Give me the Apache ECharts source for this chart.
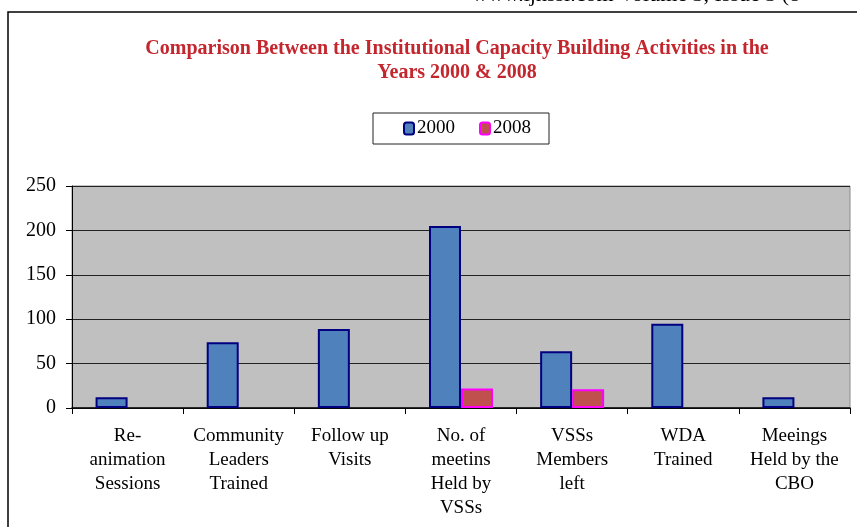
<!DOCTYPE html>
<html>
<head>
<meta charset="utf-8">
<script src="https://cdn.jsdelivr.net/npm/echarts@6/dist/echarts.min.js"></script>
<style>
  html, body { margin: 0; padding: 0; background: #fff; }
  #chart { width: 857px; height: 527px; }
</style>
</head>
<body>
<div id="chart"></div>
<script>
// categories along the x axis
const categories = [
  "Re-\nanimation\nSessions",
  "Community\nLeaders\nTrained",
  "Follow up\nVisits",
  "No. of\nmeetins\nHeld by\nVSSs",
  "VSSs\nMembers\nleft",
  "WDA\nTrained",
  "Meeings\nHeld by the\nCBO"
];
// values
const values2000 = [12, 74, 89, 205, 64, 95, 12];
const values2008 = [null, null, null, 22, 21, null, null];
const yTicks = [0, 50, 100, 150, 200, 250];

const serif = "Liberation Serif";

const chart = echarts.init(document.getElementById("chart"));

const option = {
  backgroundColor: "#fff",
  animation: false,
  title: {
    text: "Comparison Between the Institutional Capacity Building Activities in the\nYears 2000 & 2008",
    left: 452,
    top: 32,
    textAlign: "center",
    textStyle: {
      fontFamily: serif,
      fontSize: 20,
      fontWeight: "bold",
      color: "#c4262e",
      lineHeight: 24
    }
  },
  legend: {
    left: 373,
    top: 113,
    backgroundColor: "#fff",
    borderColor: "#222",
    borderWidth: 1,
    padding: [6, 18, 6, 30],
    itemWidth: 10,
    itemHeight: 12,
    itemGap: 24,
    textStyle: { fontFamily: serif, fontSize: 19, color: "#000", padding: [0, 0, 0, -2] },
    data: ["2000", "2008"]
  },
  grid: {
    left: 72,
    right: 7,
    top: 186,
    bottom: 119,
    show: true,
    backgroundColor: "#c0c0c0",
    borderColor: "#8a8a8a",
    borderWidth: 1
  },
  xAxis: {
    type: "category",
    data: categories,
    boundaryGap: true,
    axisLine: { lineStyle: { color: "#000", width: 1.5 } },
    axisTick: { show: true, length: 6, lineStyle: { color: "#000" } },
    axisLabel: {
      interval: 0,
      margin: 16,
      fontFamily: serif,
      fontSize: 19,
      lineHeight: 24,
      color: "#000",
      align: "center"
    }
  },
  yAxis: {
    type: "value",
    min: yTicks[0],
    max: yTicks[yTicks.length - 1],
    interval: 50,
    axisLine: { show: true, lineStyle: { color: "#000", width: 1 } },
    axisTick: { show: true, length: 6, lineStyle: { color: "#000" } },
    axisLabel: { margin: 16, fontFamily: serif, fontSize: 20, color: "#000" },
    splitLine: { lineStyle: { color: "#222", width: 1 } }
  },
  series: [
    {
      name: "2000",
      type: "bar",
      data: values2000,
      barWidth: 32,
      barGap: "0%",
      itemStyle: { color: "#4f81bd", borderColor: "#000080", borderWidth: 2 }
    },
    {
      name: "2008",
      type: "bar",
      data: values2008,
      barWidth: 32,
      itemStyle: { color: "#c0504d", borderColor: "#ff00ff", borderWidth: 2 }
    }
  ],
  graphic: [
    {
      type: "rect",
      shape: { x: 8, y: 12, width: 900, height: 600 },
      style: { fill: null, stroke: "#000", lineWidth: 1.5 },
      silent: true
    },
    {
      type: "text",
      left: 472,
      top: -16,
      style: {
        text: "www.ijhssi.com Volume 3, Issue 3 (8",
        fontFamily: serif,
        fontSize: 22,
        fill: "#000"
      }
    }
  ]
};

chart.setOption(option);
</script>
</body>
</html>
